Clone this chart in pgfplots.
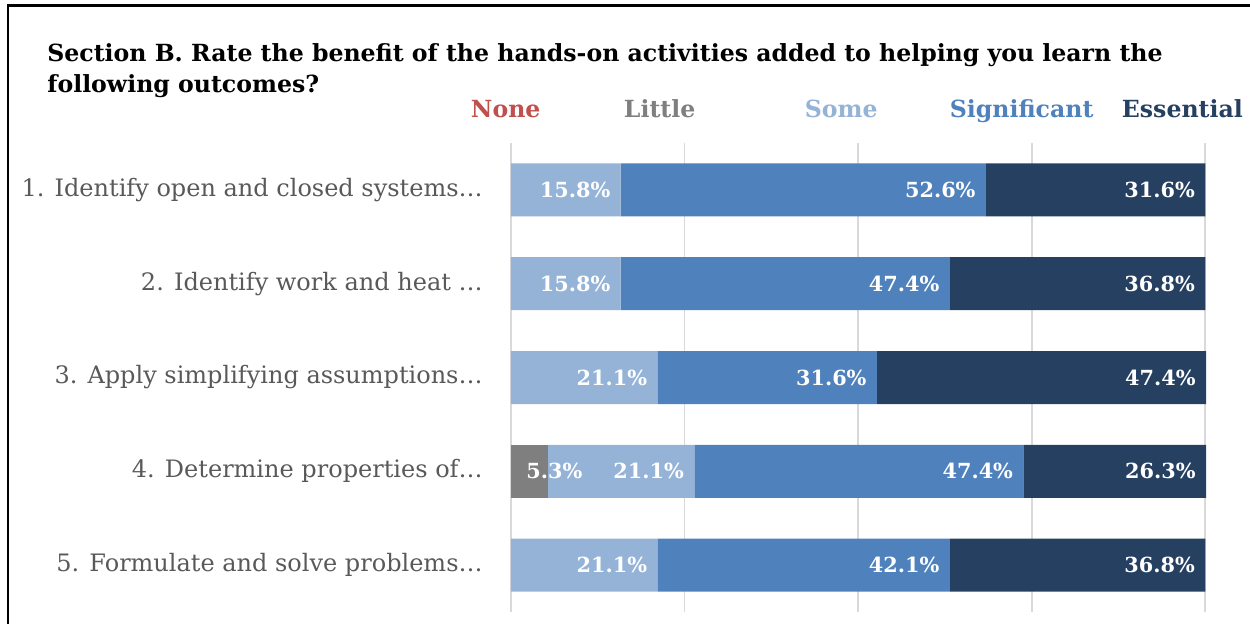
\documentclass[border=0pt]{standalone}
\usepackage{pgfplots}
\pgfplotsset{compat=1.18}
\usepackage{fontspec}
\setmainfont{DejaVu Serif}
\definecolor{cNone}{HTML}{C0504D}
\definecolor{cLittle}{HTML}{7F7F7F}
\definecolor{cSome}{HTML}{95B3D7}
\definecolor{cSig}{HTML}{4F81BD}
\definecolor{cEss}{HTML}{264061}
\definecolor{gridc}{HTML}{D9D9D9}
\definecolor{labc}{HTML}{595959}
\begin{document}
\begin{tikzpicture}
\path[use as bounding box] (0,0) rectangle (625pt,-311.5pt);
\draw[line width=1.2pt] (4pt,-330pt) -- (4pt,-2.65pt) -- (640pt,-2.65pt);
\node[anchor=base west, inner sep=0pt, font=\bfseries\fontsize{11.8}{14}\selectfont] at (23.5pt,-30.5pt) {Section B. Rate the benefit of the hands-on activities added to helping you learn the};
\node[anchor=base west, inner sep=0pt, font=\bfseries\fontsize{11.8}{14}\selectfont] at (23.5pt,-46pt) {following outcomes?};
\begin{axis}[
  xbar stacked,
  at={(255.5pt,-71.5pt)}, anchor=north west,
  scale only axis, width=347.5pt, height=234.5pt,
  bar width=26.5pt,
  xmin=0, xmax=100.1, ymin=0.5, ymax=5.5, y dir=reverse,
  xtick={0,25,50,75,100}, xticklabels={,,,,},
  xmajorgrids, major grid style={draw=gridc, line width=0.9pt},
  axis line style={draw=none}, major tick length=0pt,
  ytick={1,2,3,4,5},
  yticklabels={1. Identify open and closed systems…, 2. Identify work and heat …, 3. Apply simplifying assumptions…, 4. Determine properties of…, 5. Formulate and solve problems…},
  yticklabel style={font=\fontsize{12}{14}\selectfont, text=labc, inner sep=0pt, xshift=-14pt},
  point meta=explicit symbolic,
  nodes near coords,
  visualization depends on={rawx/2 \as \halfx},
  every node near coord/.append style={font=\bfseries\fontsize{10.4}{12}\selectfont, text=white, anchor=east, inner sep=0pt, shift={(axis direction cs:\halfx,0)}},
  every axis plot post/.append style={legend image code/.code={}},
  legend columns=5,
  legend style={at={(-0.0576,1.0704)}, anchor=west, draw=none, fill=none, inner sep=0pt, outer sep=0pt,
    /tikz/every even column/.append style={column sep=0pt},
    /tikz/every odd column/.append style={column sep=0pt},
    nodes={inner sep=0pt}, font=\bfseries\fontsize{11.8}{14}\selectfont},
]
\addplot[fill=cNone, draw=none] coordinates {(0,1) [] (0,2) [] (0,3) [] (0,4) [] (0,5) []};
\addlegendentry{\makebox[76.5pt][l]{\textcolor{cNone}{None}}}
\addplot[fill=cLittle, draw=none, every node near coord/.append style={xshift=17.5pt}] coordinates {(0,1) [] (0,2) [] (0,3) [] (5.3,4) [5.3\%] (0,5) []};
\addlegendentry{\makebox[90.5pt][l]{\textcolor{cLittle}{Little}}}
\addplot[fill=cSome, draw=none, every node near coord/.append style={xshift=-5pt}] coordinates {(15.8,1) [15.8\%] (15.8,2) [15.8\%] (21.1,3) [21.1\%] (21.1,4) [21.1\%] (21.1,5) [21.1\%]};
\addlegendentry{\makebox[72.5pt][l]{\textcolor{cSome}{Some}}}
\addplot[fill=cSig, draw=none, every node near coord/.append style={xshift=-5pt}] coordinates {(52.6,1) [52.6\%] (47.4,2) [47.4\%] (31.6,3) [31.6\%] (47.4,4) [47.4\%] (42.1,5) [42.1\%]};
\addlegendentry{\makebox[86pt][l]{\textcolor{cSig}{Significant}}}
\addplot[fill=cEss, draw=none, every node near coord/.append style={xshift=-5pt}] coordinates {(31.6,1) [31.6\%] (36.8,2) [36.8\%] (47.4,3) [47.4\%] (26.3,4) [26.3\%] (36.8,5) [36.8\%]};
\addlegendentry{\textcolor{cEss}{Essential}}
\end{axis}
\end{tikzpicture}
\end{document}
